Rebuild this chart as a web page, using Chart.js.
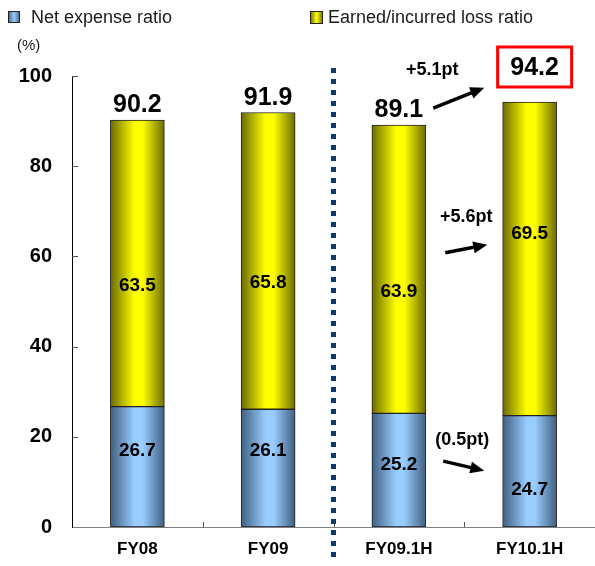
<!DOCTYPE html>
<html>
<head>
<meta charset="utf-8">
<script src="https://cdn.jsdelivr.net/npm/chart.js@4"></script>
<style>
  html, body { margin: 0; padding: 0; background: #fff; }
  #wrap { width: 595px; height: 566px; }
</style>
</head>
<body>
<div id="wrap"><canvas id="ratio-chart" width="595" height="566"></canvas></div>
<script>
/* ======== DATA ======== */
const categories = ["FY08", "FY09", "FY09.1H", "FY10.1H"];
const netExpense = [26.7, 26.1, 25.2, 24.7];
const lossRatio = [63.5, 65.8, 63.9, 69.5];
const totals = [90.2, 91.9, 89.1, 94.2];
const yTicks = [0, 20, 40, 60, 80, 100];
const changeLabels = ["+5.1pt", "+5.6pt", "(0.5pt)"];
const legendLabels = ["Net expense ratio", "Earned/incurred loss ratio"];

/* label nudges (px) from the middle of each segment, as placed in the original */
const netLabelNudge = [-16, -17, -5, 18];
const lossLabelNudge = [22, 22, 23, -25];

const BAR_W = 54;
const FONT = "Arial, 'Liberation Sans', sans-serif";

/* horizontal "cylinder" shading for each bar */
function barShade(ctx, dark, light) {
    const chart = ctx.chart;
    const xs = chart.scales && chart.scales.x;
    if (!xs || !chart.chartArea) return light;
    const cx = xs.getPixelForValue(ctx.dataIndex);
    const g = chart.ctx.createLinearGradient(cx - BAR_W / 2, 0, cx + BAR_W / 2, 0);
    g.addColorStop(0, dark);
    g.addColorStop(0.45, light);
    g.addColorStop(0.6, light);
    g.addColorStop(1, dark);
    return g;
}

function boxShade(c, x, w, dark, light) {
    const g = c.createLinearGradient(x, 0, x + w, 0);
    g.addColorStop(0, dark);
    g.addColorStop(0.5, light);
    g.addColorStop(1, dark);
    return g;
}

function arrow(c, x1, y1, x2, y2) {
    const ang = Math.atan2(y2 - y1, x2 - x1);
    const head = 14;
    c.save();
    c.strokeStyle = "#000";
    c.fillStyle = "#000";
    c.lineWidth = 3.5;
    c.beginPath();
    c.moveTo(x1, y1);
    c.lineTo(x2 - Math.cos(ang) * head * 0.8, y2 - Math.sin(ang) * head * 0.8);
    c.stroke();
    c.beginPath();
    c.moveTo(x2, y2);
    c.lineTo(x2 - head * Math.cos(ang) + 6 * Math.sin(ang), y2 - head * Math.sin(ang) - 6 * Math.cos(ang));
    c.lineTo(x2 - head * Math.cos(ang) - 6 * Math.sin(ang), y2 - head * Math.sin(ang) + 6 * Math.cos(ang));
    c.closePath();
    c.fill();
    c.restore();
}

/* ======== EXTRAS: legend, labels, arrows, divider ======== */
const extras = {
    id: "extras",
    afterDraw(chart) {
        const c = chart.ctx;
        const xs = chart.scales.x;
        const ys = chart.scales.y;
        const left = chart.chartArea.left;
        const bottom = chart.chartArea.bottom;

        c.save();
        // inward ticks on the y axis
        c.strokeStyle = "#555";
        c.lineWidth = 1;
        yTicks.forEach(v => {
            if (v === 0) return;
            const y = Math.round(ys.getPixelForValue(v)) + 0.5;
            c.beginPath(); c.moveTo(left, y); c.lineTo(left + 6, y); c.stroke();
        });
        // small upward ticks between categories
        for (let i = 0; i < categories.length - 1; i++) {
            const x = Math.round((xs.getPixelForValue(i) + xs.getPixelForValue(i + 1)) / 2) + 0.5;
            c.beginPath(); c.moveTo(x, bottom); c.lineTo(x, bottom - 5); c.stroke();
        }

        // segment labels
        c.fillStyle = "#000";
        c.textAlign = "center";
        c.textBaseline = "middle";
        c.font = "bold 19px " + FONT;
        categories.forEach((cat, i) => {
            const x = xs.getPixelForValue(i);
            c.fillText(netExpense[i].toFixed(1), x, ys.getPixelForValue(netExpense[i] / 2) + netLabelNudge[i]);
            c.fillText(lossRatio[i].toFixed(1), x, ys.getPixelForValue(netExpense[i] + lossRatio[i] / 2) + lossLabelNudge[i]);
        });

        // totals
        c.font = "bold 25px " + FONT;
        c.textBaseline = "alphabetic";
        totals.forEach((t, i) => {
            const x = xs.getPixelForValue(i);
            if (i === totals.length - 1) {
                const cx = x + 5;
                const cy = ys.getPixelForValue(100) - 9;
                c.save();
                c.strokeStyle = "#ff0000";
                c.lineWidth = 3;
                c.strokeRect(cx - 37, cy - 20, 74, 40);
                c.restore();
                c.textBaseline = "middle";
                c.fillText(t.toFixed(1), cx, cy + 1);
                c.textBaseline = "alphabetic";
            } else {
                c.fillText(t.toFixed(1), x, ys.getPixelForValue(t) - 8);
            }
        });

        // change arrows
        const xm = (xs.getPixelForValue(2) + xs.getPixelForValue(3)) / 2;
        c.font = "bold 18px " + FONT;
        c.textBaseline = "middle";
        c.fillText(changeLabels[0], xm - 32, ys.getPixelForValue(101.3));
        arrow(c, xm - 31, ys.getPixelForValue(92.9), xm + 20, ys.getPixelForValue(97.4));
        c.fillText(changeLabels[1], xm + 2, ys.getPixelForValue(68.7));
        arrow(c, xm - 19, ys.getPixelForValue(60.8), xm + 23, ys.getPixelForValue(62.6));
        c.fillText(changeLabels[2], xm - 2, ys.getPixelForValue(19.3));
        arrow(c, xm - 21, ys.getPixelForValue(14.6), xm + 20, ys.getPixelForValue(12.5));

        // dotted divider between annual and half-year figures
        const xd = (xs.getPixelForValue(1) + xs.getPixelForValue(2)) / 2;
        c.strokeStyle = "#0d3b6c";
        c.lineWidth = 5;
        c.setLineDash([5, 6]);
        c.beginPath(); c.moveTo(xd, 68); c.lineTo(xd, 561); c.stroke();
        c.setLineDash([]);

        // legend
        c.lineWidth = 1;
        c.strokeStyle = "#222";
        c.fillStyle = boxShade(c, 8, 12, "#3f5f80", "#99ccff");
        c.fillRect(8, 11, 12, 12); c.strokeRect(8.5, 11.5, 11, 11);
        c.fillStyle = boxShade(c, 310, 13, "#6b6b00", "#ffff00");
        c.fillRect(310, 11, 13, 12); c.strokeRect(310.5, 11.5, 12, 12);
        c.fillStyle = "#1a1a1a";
        c.textAlign = "left";
        c.font = "18px " + FONT;
        c.fillText(legendLabels[0], 31, 18);
        c.fillText(legendLabels[1], 328, 18);
        c.font = "15px " + FONT;
        c.fillText("(%)", 17, 46);
        c.restore();
    }
};

/* ======== CHART ======== */
const ctxRatio = document.getElementById("ratio-chart").getContext("2d");
const ratioChart = new Chart(ctxRatio, {
    type: "bar",
    data: {
        labels: categories,
        datasets: [{
            label: legendLabels[0],
            data: netExpense,
            backgroundColor: (ctx) => barShade(ctx, "#3f5f80", "#99ccff"),
            borderColor: "#222",
            borderWidth: 1,
            borderSkipped: false,
            barThickness: BAR_W
        }, {
            label: legendLabels[1],
            data: lossRatio,
            backgroundColor: (ctx) => barShade(ctx, "#6b6b00", "#ffff00"),
            borderColor: "#222",
            borderWidth: 1,
            borderSkipped: false,
            barThickness: BAR_W
        }]
    },
    options: {
        responsive: false,
        animation: false,
        layout: { padding: { top: 76, right: 0, left: 0, bottom: 0 } },
        plugins: {
            legend: { display: false },
            tooltip: { enabled: false }
        },
        scales: {
            x: {
                stacked: true,
                offset: true,
                grid: { display: false, drawTicks: false },
                border: { display: true, color: "#808080", width: 1 },
                ticks: { color: "#000", padding: 12, font: { family: FONT, size: 17, weight: "bold" } },
                afterFit: (s) => { s.height = 39; }
            },
            y: {
                stacked: true,
                min: 0,
                max: 100,
                grid: { display: false, drawTicks: false },
                border: { display: true, color: "#000", width: 1 },
                ticks: {
                    stepSize: 20,
                    color: "#000",
                    padding: 20,
                    font: { family: FONT, size: 20, weight: "bold" },
                    callback: (v) => yTicks.includes(v) ? String(v) : ""
                },
                afterFit: (s) => { s.width = 72; }
            }
        }
    },
    plugins: [extras]
});
</script>
</body>
</html>
